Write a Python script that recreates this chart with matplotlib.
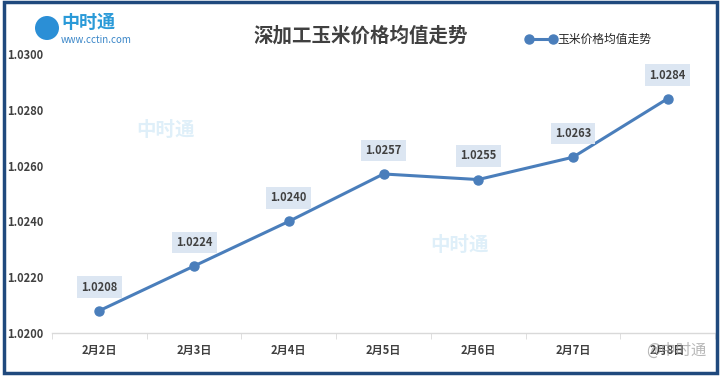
import matplotlib
matplotlib.use("Agg")
import matplotlib.pyplot as plt
from matplotlib.patches import Rectangle, Circle

plt.rcParams['font.family'] = ['Noto Sans CJK SC', 'DejaVu Sans']

dates = ['2月2日', '2月3日', '2月4日', '2月5日', '2月6日', '2月7日', '2月8日']
prices = [1.0208, 1.0224, 1.0240, 1.0257, 1.0255, 1.0263, 1.0284]
yticks = [1.0200, 1.0220, 1.0240, 1.0260, 1.0280, 1.0300]

line_color = '#4a7ebb'
text_color = '#404040'

fig = plt.figure(figsize=(7.22, 3.77), dpi=100)
ax = fig.add_axes([52 / 722, 1 - 333 / 377, (715 - 52) / 722, (333 - 54) / 377])

x = list(range(len(dates)))
ax.plot(x, prices, color=line_color, lw=2.2, marker='o', ms=6.5, label='玉米价格均值走势')

for xi, v in zip(x, prices):
    ax.annotate(f'{v:.4f}', (xi, v), xytext=(0, 17), textcoords='offset points',
                ha='center', va='center', fontsize=8, fontweight='bold', color=text_color,
                bbox=dict(boxstyle='square,pad=0.38', fc='#dce6f2', ec='none'))

ax.set_xlim(-0.5, len(dates) - 0.5)
ax.set_ylim(1.0200, 1.0300)
ax.set_yticks(yticks)
ax.set_yticklabels([f'{t:.4f}' for t in yticks])
ax.set_xticks(x)
ax.set_xticklabels(dates)
ax.set_xticks([i - 0.5 for i in range(len(dates) + 1)], minor=True)
ax.tick_params(axis='x', which='major', length=0, pad=8)
ax.tick_params(axis='x', which='minor', length=4, color='#d9d9d9')
ax.tick_params(axis='y', length=0, pad=6)
for lbl in ax.get_xticklabels() + ax.get_yticklabels():
    lbl.set_fontsize(8)
    lbl.set_fontweight('bold')
    lbl.set_color(text_color)
for s in ['top', 'right', 'left']:
    ax.spines[s].set_visible(False)
ax.spines['bottom'].set_color('#d9d9d9')
ax.spines['bottom'].set_linewidth(1)
ax.patch.set_alpha(0)

fig.text(0.5, 1 - 36 / 377, '深加工玉米价格均值走势', ha='center', va='center',
         fontsize=14, fontweight='bold', color=text_color)

ax.legend(loc='upper left', bbox_to_anchor=(521 / 722, 1 - 28 / 377), bbox_transform=fig.transFigure,
          frameon=False, fontsize=8.5, handlelength=2.6, handletextpad=0.1, numpoints=2,
          labelcolor='#262626', borderaxespad=0)

# logo top-left
fig.patches.append(Circle((0.47, 3.77 - 0.28), 0.12, transform=fig.dpi_scale_trans,
                          fc='#2b8fd6', ec='none'))
fig.text(61 / 722, 1 - 22 / 377, '中时通', ha='left', va='center', fontsize=13,
         fontweight='bold', color='#2a9ad8')
fig.text(61 / 722, 1 - 40 / 377, 'www.cctin.com', ha='left', va='center', fontsize=7,
         color='#3a86c8')

# faint watermarks
for wx, wy in [(165, 130), (460, 245)]:
    fig.text(wx / 722, 1 - wy / 377, '中时通', ha='center', va='center', fontsize=14,
             fontweight='bold', color='#2a9ad8', alpha=0.15)
fig.text(676 / 722, 1 - 350 / 377, '@中时通', ha='center', va='center', fontsize=11,
         color='#999999', alpha=0.7)

# outer border
fig.patches.append(Rectangle((4 / 722, 4 / 377), 713 / 722, 371 / 377, transform=fig.transFigure,
                             fill=False, ec='#1f497d', lw=2.5))

fig.savefig('out.png', dpi=100)
